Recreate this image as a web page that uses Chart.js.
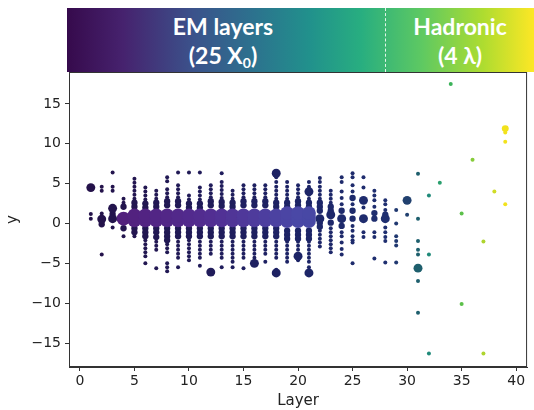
<!DOCTYPE html>
<html>
<head>
<meta charset="utf-8">
<script src="https://cdn.jsdelivr.net/npm/chart.js@4.4.1/dist/chart.umd.min.js"></script>
<style>
  html, body { margin: 0; padding: 0; background: #fff; }
  #wrap { position: relative; width: 534px; height: 410px; }
  #banner {
    position: absolute; left: 67px; top: 8px; width: 467px; height: 64px;
    background: linear-gradient(to right, #360a4c 0%, #46226e 12%, #3b528b 27%, #2c728e 40%, #21918c 52%, #28ae80 63%, #5ec962 76%, #addc30 89%, #fde725 100%);
    color: #fff; font-family: Lato, "Open Sans", sans-serif; font-weight: 700; font-size: 23px;
  }
  .label { position: absolute; top: 4px; line-height: 29px; text-align: center; transform: translateX(-50%); white-space: nowrap; }
  .label sub { font-size: 14px; vertical-align: -4px; line-height: 0; }
  .split { position: absolute; left: 318px; top: 0; height: 64px; border-left: 1px dashed rgba(255,255,255,0.85); }
</style>
</head>
<body>
<div id="wrap">
  <canvas id="chart" width="534" height="410"></canvas>
  <div id="banner">
    <div class="label" style="left:156px">EM layers<br>(25 X<sub>0</sub>)</div>
    <div class="split"></div>
    <div class="label" style="left:393px">Hadronic<br>(4 λ)</div>
  </div>
</div>
<script>
// Calorimeter hits. index 0 -> layer 1
const emLayers = [1, 2, 3, 4, 5, 6, 7, 8, 9, 10, 11, 12, 13, 14, 15, 16,
  17, 18, 19, 20, 21, 22, 23, 24, 25, 26, 27, 28, 29, 30, 31, 32];

// y of the small hits in each layer
const smallY = [
  [1.2, 0.6],
  [4.6, 4.1, 1.25, -3.9],
  [6.4, 4.6, 4.1, -0.5],
  [3.1, 2.6, -1.6],
  [5.6, 5.1, 4.6, 4.1, 3.6, 3.1, -1.6],
  [4.5, 4.0, 3.5, 3.0, -2.1, -2.6, -3.1, -3.6, -4.1, -5.0],
  [4.1, 3.6, 3.1, -2.3, -2.8, -3.3, -5.6],
  [5.8, 5.3, 4.3, 3.8, 3.3, -2.6, -3.1, -3.6, -5.0, -5.5, -6.0],
  [6.4, 4.8, 4.3, 3.8, 3.3, -2.3, -2.8, -3.3, -3.8, -4.3, -5.5],
  [6.4, 3.5, 3.0, -2.1, -2.6, -3.1, -3.6, -4.1, -4.6],
  [6.4, 4.5, 4.0, 3.5, 3.0, -2.3, -2.8, -3.3, -3.8, -4.3, -5.3],
  [4.8, 4.3, 3.8, 3.3, -2.3, -2.8, -3.3, -3.8],
  [6.3, 5.2, 4.7, 4.2, 3.7, 3.2, -2.3, -2.8, -3.3, -3.8, -4.3, -5.5],
  [4.1, 3.6, 3.1, -2.3, -2.8, -3.3, -3.8, -4.3, -4.8, -5.5],
  [4.8, 4.3, 3.8, 3.3, -2.3, -2.8, -3.3, -3.8, -4.3, -5.6],
  [4.8, 4.3, 3.8, 3.3, -2.3, -2.8, -3.3, -3.8, -4.3],
  [4.8, 4.3, 3.8, 3.3, -2.3, -2.8, -3.3, -3.8, -4.8],
  [5.8, 5.2, 4.6, 4.1, 3.6, 3.1, -2.3, -2.8, -3.3, -3.8, -4.3, -5.8],
  [5.2, 4.6, 4.1, 3.6, 3.1, -2.3, -2.8, -3.3, -3.8, -4.3, -4.8],
  [4.8, 4.3, 3.8, 3.3, -2.3, -2.8, -3.3, -4.6],
  [5.2, 4.6, 3.6, 3.1, -2.3, -2.8, -3.3, -3.8, -4.3, -4.8, -5.5],
  [5.7, 5.2, 4.6, 4.1, 3.6, 3.1, -0.9, -1.4, -1.9, -2.4, -2.9],
  [4.1, 3.6, 3.1, 2.6, -0.6, -1.1, -1.6, -2.1, -2.6, -3.1, -3.6],
  [5.8, 5.2, 4.0, 3.2, 2.4, -1.1, -1.6, -2.4, -3.2, -3.9],
  [6.3, 5.8, 4.8, 4.0, 2.4, -0.3, -0.9, -1.6, -2.1, -2.4, -5.0],
  [5.8, 4.5, 2.0, -1.1, -1.7],
  [4.1, 3.5, 2.9, 2.1, -1.1, -1.7, -4.4],
  [2.9, 2.4, 1.7, -0.5, -1.1, -1.7, -2.2, -4.9],
  [1.7, 0.0, -1.6, -2.2, -2.75, -4.9],
  [1.1],
  [6.25, 0.6, -2.2, -3.3, -3.9, -7.2, -11.2],
  [3.5, -3.9, -16.3]
];

// y of the medium hits in each layer
const mediumY = [
  [], [-0.1], [1.2], [2.1, -0.6],
  [2.6, 2.1, -0.6, -1.1],
  [2.5, 2.0, -0.6, -1.1, -1.6],
  [2.6, 2.1, -0.6, -1.1, -1.7],
  [2.8, 2.3, -0.6, -1.1, -1.6, -2.1],
  [2.8, 2.3, -0.6, -1.1, -1.6],
  [2.5, 2.0, -0.6, -1.1, -1.6],
  [2.5, 2.0, -0.6, -1.1, -1.6],
  [2.8, 2.3, -0.6, -1.1, -1.6],
  [2.7, 2.2, -0.6, -1.1, -1.6],
  [2.6, 2.1, -0.6, -1.1, -1.6],
  [2.8, 2.3, -0.6, -1.1, -1.6],
  [2.8, 2.3, -0.6, -1.1, -1.6],
  [2.8, 2.3, -0.6, -1.1, -1.6],
  [2.6, 2.1, -0.6, -1.1, -1.6],
  [2.6, 2.1, -0.9, -1.4, -1.9],
  [2.8, 2.3, -0.9, -1.4, -1.9],
  [2.6, 2.1, -0.9, -1.4, -1.9],
  [2.6, 2.1, 1.6, 0.1, -0.4],
  [2.1, 1.6, 0.1],
  [1.6, -0.3],
  [3.2, 1.6, 0.6],
  [],
  [1.3, 0.6],
  [1.1],
  [], [], [], []
];

// y of the large single hits in each layer
const largeY = [
  [4.5], [0.55], [1.9, 0.6], [], [], [], [], [], [], [], [], [-6.1],
  [], [], [], [-5.0], [], [6.3, -6.2], [], [-4.1], [4.0, -6.2], [0.6],
  [1.1], [0.6], [], [2.9, 0.6], [], [0.6], [], [2.9], [-5.6], []
];

// y of the dense shower core in each layer
const coreY = [
  [], [], [], [0.6],
  [0.4, 1.0], [0.4, 1.0], [0.4, 1.0], [0.4, 1.0], [0.4, 1.0], [0.4, 1.0],
  [0.4, 1.0], [0.4, 1.0], [0.4, 1.0], [0.4, 1.0], [0.4, 1.0], [0.4, 1.0],
  [0.4, 1.0], [0.4, 1.0], [0.3, 0.8, 1.3], [0.3, 0.8, 1.3], [0.3, 0.8, 1.3],
  [], [], [], [], [], [], [], [], [], [], []
];

// hit energy of each group: small, medium, large, core
const groupEnergy = [1, 2.5, 5, 12];

// sparse hits in the hadronic section
const hadLayer = [33, 34, 35, 35, 36, 37, 37, 38, 39, 39, 39, 39];
const hadY = [5.1, 17.5, 1.25, -10.1, 8.0, -2.25, -16.3, 4.0, 11.9, 11.4, 10.25, 2.4];
const hadE = [1, 1, 1, 1, 1, 1, 1, 1, 3, 1, 1, 1];

const xTicks = [0, 5, 10, 15, 20, 25, 30, 35, 40];
const yTicks = [-15, -10, -5, 0, 5, 10, 15];

// colour along the layers (dark navy in EM part, viridis in hadronic part)
const hitStops = [[1, [36, 18, 74]], [20, [29, 36, 102]], [28, [31, 47, 112]], [30, [33, 64, 111]],
  [31, [30, 95, 109]], [32, [32, 138, 122]], [33, [42, 159, 110]], [34, [60, 179, 90]],
  [35, [92, 192, 74]], [36, [134, 204, 58]], [37, [174, 212, 46]], [38, [208, 220, 38]], [39, [242, 226, 28]]];
const coreStops = [[3, [82, 30, 122]], [12, [82, 46, 146]], [20, [74, 72, 166]], [28, [58, 74, 154]]];

function mix(stops, v) {
  if (v <= stops[0][0]) return stops[0][1];
  for (let i = 1; i < stops.length; i++) {
    if (v <= stops[i][0]) {
      const [a0, c0] = stops[i - 1];
      const [a1, c1] = stops[i];
      const t = (v - a0) / (a1 - a0);
      return c0.map((c, k) => Math.round(c + (c1[k] - c) * t));
    }
  }
  return stops[stops.length - 1][1];
}
const rgb = c => `rgb(${c[0]},${c[1]},${c[2]})`;
const energyToRadius = e => 2 * Math.sqrt(e);

function hitsFor(groupY, energy) {
  const pts = [];
  emLayers.forEach((layer, i) => {
    groupY[i].forEach(y => pts.push({ x: layer, y: y, r: energyToRadius(energy) }));
  });
  return pts;
}

const hadHits = hadLayer.map((l, i) => ({ x: l, y: hadY[i], r: energyToRadius(hadE[i]) }));

const hitColor = ctx => rgb(mix(hitStops, ctx.raw ? ctx.raw.x : 1));
const coreColor = ctx => rgb(mix(coreStops, ctx.raw ? ctx.raw.x : 3));

// box around the plot, like matplotlib spines
const frame = {
  id: 'frame',
  afterDatasetsDraw(chart) {
    const { ctx, chartArea: a } = chart;
    ctx.save();
    ctx.strokeStyle = '#333';
    ctx.lineWidth = 1;
    ctx.strokeRect(a.left + 0.5, a.top + 0.5, a.right - a.left - 1, a.bottom - a.top - 1);
    ctx.restore();
  }
};

const tickFont = { family: 'DejaVu Sans', size: 14 };

new Chart(document.getElementById('chart'), {
  type: 'bubble',
  data: {
    datasets: [
      { label: 'small', data: hitsFor(smallY, groupEnergy[0]), backgroundColor: hitColor, borderWidth: 0, order: 4 },
      { label: 'medium', data: hitsFor(mediumY, groupEnergy[1]), backgroundColor: hitColor, borderWidth: 0, order: 3 },
      { label: 'large', data: hitsFor(largeY, groupEnergy[2]), backgroundColor: hitColor, borderWidth: 0, order: 2 },
      { label: 'core', data: hitsFor(coreY, groupEnergy[3]), backgroundColor: coreColor, borderWidth: 0, order: 1 },
      { label: 'hadronic', data: hadHits, backgroundColor: hitColor, borderWidth: 0, order: 0 }
    ]
  },
  options: {
    responsive: false,
    animation: false,
    events: [],
    layout: { padding: { top: 72, right: 1, left: 0, bottom: 0 } },
    plugins: { legend: { display: false }, tooltip: { enabled: false } },
    scales: {
      x: {
        type: 'linear', min: -1, max: 41,
        afterBuildTicks: s => { s.ticks = xTicks.map(v => ({ value: v })); },
        afterFit: s => { s.height = 43; },
        grid: { drawOnChartArea: false, drawTicks: true, tickLength: 4, color: '#333' },
        border: { color: '#333', width: 1 },
        ticks: { color: '#222', font: tickFont, padding: 2, maxRotation: 0 },
        title: { display: true, text: 'Layer', color: '#222', font: { family: 'DejaVu Sans', size: 15 }, padding: { top: 0, bottom: 0 } }
      },
      y: {
        type: 'linear', min: -18, max: 19,
        afterBuildTicks: s => { s.ticks = yTicks.map(v => ({ value: v })); },
        afterFit: s => { s.width = 69; },
        grid: { drawOnChartArea: false, drawTicks: true, tickLength: 4, color: '#333' },
        border: { color: '#333', width: 1 },
        ticks: { color: '#222', font: tickFont, padding: 4, callback: v => (v < 0 ? '\u2212' + Math.abs(v) : String(v)) },
        title: { display: true, text: 'y', color: '#222', font: { family: 'DejaVu Sans', size: 15 }, padding: { top: 4, bottom: 0 } }
      }
    }
  },
  plugins: [frame]
});
</script>
</body>
</html>
